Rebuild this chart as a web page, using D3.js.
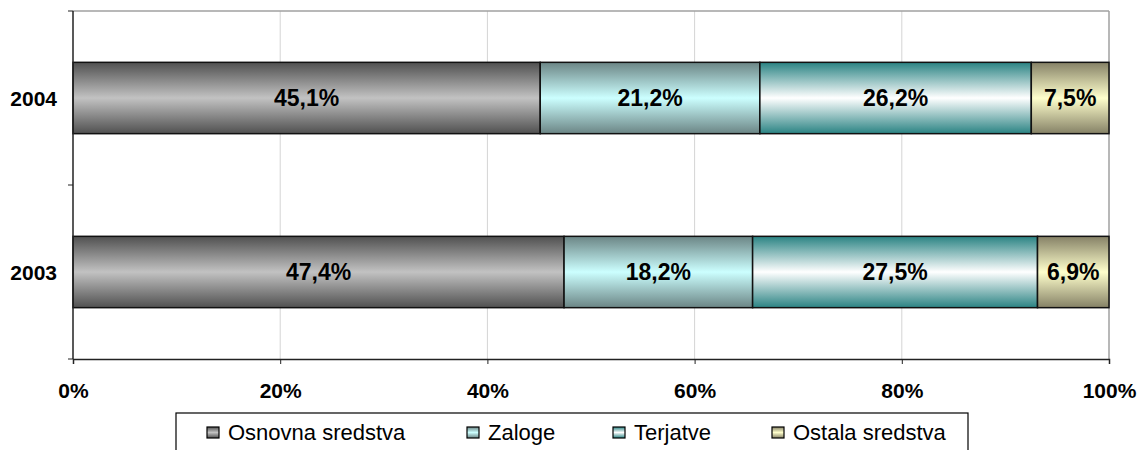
<!DOCTYPE html>
<html>
<head>
<meta charset="utf-8">
<script src="https://cdn.jsdelivr.net/npm/d3@7"></script>
<style>
  body { margin: 0; background: #fff; }
  text { font-family: "Liberation Sans", Arial, sans-serif; }
</style>
</head>
<body>
<svg id="chart" width="1141" height="450"></svg>
<script>
// data
const years = ['2004', '2003'];
const seriesNames = ['Osnovna sredstva', 'Zaloge', 'Terjatve', 'Ostala sredstva'];
const values2004 = [45.1, 21.2, 26.2, 7.5];
const values2003 = [47.4, 18.2, 27.5, 6.9];
const xTicks = [0, 20, 40, 60, 80, 100];

// gradient edge / center colours per series
const edgeColors = ['#505050', '#6b8585', '#2a8383', '#858166'];
const midColors = ['#c2c2c2', '#ccffff', '#ffffff', '#ffffcc'];

const svg = d3.select('#chart');
const margin = { top: 11, right: 32, bottom: 91, left: 73 };
const W = 1141, H = 450;
const iw = W - margin.left - margin.right;
const ih = H - margin.top - margin.bottom;

// vertical gradients: dark edges, light middle
const defs = svg.append('defs');
seriesNames.forEach((name, i) => {
    const g = defs.append('linearGradient')
        .attr('id', 'grad' + i)
        .attr('x1', 0).attr('y1', 0).attr('x2', 0).attr('y2', 1);
    g.append('stop').attr('offset', '0%').attr('stop-color', edgeColors[i]);
    g.append('stop').attr('offset', '50%').attr('stop-color', midColors[i]);
    g.append('stop').attr('offset', '100%').attr('stop-color', edgeColors[i]);
});

const x = d3.scaleLinear().domain([0, 100]).range([0, iw]);
const y = d3.scaleBand().domain(years).range([0, ih]).paddingInner(0.59).paddingOuter(0.295);

const g = svg.append('g').attr('transform', `translate(${margin.left},${margin.top})`);

// gridlines
g.selectAll('line.grid')
    .data(xTicks.slice(1))
    .enter().append('line')
    .attr('class', 'grid')
    .attr('x1', d => x(d)).attr('x2', d => x(d))
    .attr('y1', 0).attr('y2', ih)
    .attr('stroke', d => d === 100 ? '#a0a0a0' : '#d4d4d4')
    .attr('stroke-width', d => d === 100 ? 1.5 : 1);

// top border of plot area
g.append('line')
    .attr('x1', 0).attr('x2', iw).attr('y1', 0).attr('y2', 0)
    .attr('stroke', '#a0a0a0').attr('stroke-width', 1.5);

// stacked data
const rows = { '2004': values2004, '2003': values2003 };
const segs = [];
years.forEach(yr => {
    let acc = 0;
    rows[yr].forEach((v, i) => {
        segs.push({ year: yr, i, x0: acc, x1: acc + v, v });
        acc += v;
    });
});

g.selectAll('rect.seg')
    .data(segs)
    .enter().append('rect')
    .attr('class', 'seg')
    .attr('x', d => x(d.x0))
    .attr('y', d => y(d.year))
    .attr('width', d => x(d.x1) - x(d.x0))
    .attr('height', y.bandwidth())
    .attr('fill', d => `url(#grad${d.i})`)
    .attr('stroke', '#111')
    .attr('stroke-width', 1.5);

g.selectAll('text.val')
    .data(segs)
    .enter().append('text')
    .attr('class', 'val')
    .attr('x', d => x((d.x0 + d.x1) / 2))
    .attr('y', d => y(d.year) + y.bandwidth() / 2)
    .attr('dy', '0.36em')
    .attr('text-anchor', 'middle')
    .attr('font-size', 23)
    .attr('font-weight', 'bold')
    .text(d => d.v.toFixed(1).replace('.', ',') + '%');

// x axis
const xAxis = g.append('g').attr('transform', `translate(0,${ih})`)
    .call(d3.axisBottom(x).tickValues(xTicks).tickSize(5).tickFormat(d => d + '%'));
xAxis.select('.domain').attr('stroke', '#222').attr('stroke-width', 1.5);
xAxis.selectAll('.tick line').attr('stroke', '#222');
xAxis.selectAll('.tick text')
    .attr('y', 39)
    .attr('dy', 0)
    .attr('font-size', 21)
    .attr('font-weight', 'bold')
    .attr('fill', '#000')
    .style('font-family', '"Liberation Sans", Arial, sans-serif');

// y axis (ticks at band boundaries)
g.append('line')
    .attr('x1', 0).attr('x2', 0).attr('y1', 0).attr('y2', ih)
    .attr('stroke', '#222').attr('stroke-width', 1.5);
[0, ih / 2, ih].forEach(t => {
    g.append('line')
        .attr('x1', -5).attr('x2', 0).attr('y1', t).attr('y2', t)
        .attr('stroke', '#222');
});
g.selectAll('text.cat')
    .data(years)
    .enter().append('text')
    .attr('class', 'cat')
    .attr('x', -16)
    .attr('y', d => y(d) + y.bandwidth() / 2)
    .attr('dy', '0.36em')
    .attr('text-anchor', 'end')
    .attr('font-size', 21)
    .attr('font-weight', 'bold')
    .text(d => d);

// legend
const legend = svg.append('g').attr('transform', 'translate(176,413)');
legend.append('rect')
    .attr('x', 0).attr('y', 0).attr('width', 792).attr('height', 50)
    .attr('fill', '#fff').attr('stroke', '#000').attr('stroke-width', 1.2);
const legendX = [31, 291, 437, 596];
seriesNames.forEach((name, i) => {
    const item = legend.append('g').attr('transform', `translate(${legendX[i]},0)`);
    item.append('rect')
        .attr('x', 0).attr('y', 14).attr('width', 12).attr('height', 11)
        .attr('fill', `url(#grad${i})`)
        .attr('stroke', '#000').attr('stroke-width', 1.2);
    item.append('text')
        .attr('x', 21).attr('y', 27)
        .attr('font-size', 22)
        .text(name);
});
</script>
</body>
</html>
